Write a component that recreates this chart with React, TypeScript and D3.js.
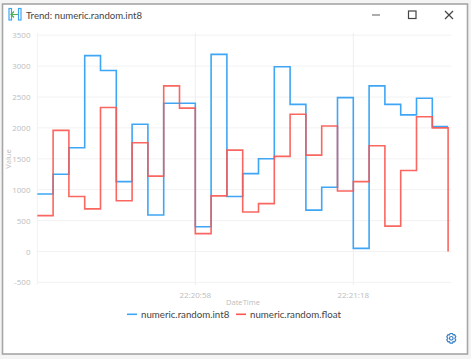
import React from "react";
import * as d3 from "d3";

const startTime = new Date(2024, 0, 1, 22, 20, 38).getTime();
const stepSeconds = 2;
const int8Values = [930, 1250, 1680, 3170, 2930, 1130, 2060, 590, 2400, 2400, 400, 3190, 890, 1260, 1500, 2990, 2380, 670, 1040, 2490, 50, 2680, 2380, 2210, 2480, 2020];
const floatValues = [580, 1960, 890, 690, 2330, 820, 1760, 1220, 2680, 2320, 290, 900, 1640, 640, 775, 1540, 2220, 1560, 2030, 980, 1130, 1710, 410, 1310, 2180, 2000, 0];
const yTicks = [-500, 0, 500, 1000, 1500, 2000, 2500, 3000, 3500];
const xTickLabels = ["22:20:58", "22:21:18"];
const xTicks = [new Date(2024, 0, 1, 22, 20, 58), new Date(2024, 0, 1, 22, 21, 18)];
const title = "Trend: numeric.random.int8";
const seriesNames = ["numeric.random.int8", "numeric.random.float"];
const BLUE = "#3ea6f5";
const RED = "#f8564f";
const FONT = "Lato, 'Open Sans', sans-serif";
const TICK_FONT = "'Open Sans', sans-serif";

export default function App() {
  const x = d3.scaleTime().domain([startTime, startTime + 52000]).range([37.3, 448.1]);
  const y = d3.scaleLinear().domain([-500, 3500]).range([282.4, 35.2]);
  const t = (i: number) => new Date(startTime + i * stepSeconds * 1000);
  const line = d3.line<number>().x((_, i) => x(t(i))).y((d) => y(d)).curve(d3.curveStepAfter);
  const int8Line = line([...int8Values, int8Values[int8Values.length - 1]]) as string;
  const floatLine = line(floatValues) as string;
  return (
    <svg width={471} height={359} style={{ position: "absolute", left: 0, top: 0 }} fontFamily={FONT}>
      <rect x={0} y={0} width={471} height={359} fill="#f4f4f4" />
      <rect x={2.5} y={4} width={465} height={350} fill="#fff" stroke="#a6a6a6" strokeWidth={1.6} />
      <g fill="none" stroke="#3ea6f5" strokeWidth={1.2}>
        <rect x={9} y={8.5} width={2.5} height={11.5} />
        <rect x={18.5} y={8.5} width={2.5} height={11.5} />
      </g>
      <path d="M11 14.5H18M14 11.5L11 14.5L14 17.5" fill="none" stroke="#4caf50" strokeWidth={1.2} />
      <text x={26} y={18.5} fontSize={9.6} fill="#444">{title}</text>
      <g fill="none" stroke="#444" strokeWidth={1.2}>
        <path d="M372 15H380" stroke="#777" />
        <rect x={408.5} y={11} width={7.5} height={7.5} />
        <path d="M445 11L453 19M453 11L445 19" />
      </g>
      {yTicks.map((v) => (
        <g key={v}>
          <line x1={37.3} x2={451.5} y1={y(v)} y2={y(v)} stroke="#f2f2f2" />
          <text x={30.5} y={y(v) + 3} textAnchor="end" fontSize={8} fontFamily={TICK_FONT} fill="#bdbdbd">{v}</text>
        </g>
      ))}
      <line x1={37.3} x2={37.3} y1={33} y2={285} stroke="#f2f2f2" />
      {xTicks.map((d, i) => (
        <g key={i}>
          <line x1={x(d)} x2={x(d)} y1={33} y2={285} stroke="#eeeeee" />
          <text x={x(d)} y={297.5} textAnchor="middle" fontSize={8} fontFamily={TICK_FONT} fill="#bdbdbd">{xTickLabels[i]}</text>
        </g>
      ))}
      <text x={243} y={304.5} textAnchor="middle" fontSize={7.6} fontFamily={TICK_FONT} fill="#bdbdbd">DateTime</text>
      <text transform="translate(11,159) rotate(-90)" textAnchor="middle" fontSize={7.6} fontFamily={TICK_FONT} fill="#bdbdbd">Value</text>
      <path d={int8Line} fill="none" stroke={BLUE} strokeWidth={1.6} />
      <path d={floatLine} fill="none" stroke={RED} strokeWidth={1.6} strokeOpacity={0.9} />
      <line x1={127} x2={137} y1={314.3} y2={314.3} stroke={BLUE} strokeWidth={1.6} />
      <text x={141} y={318} fontSize={9.7} fill="#444">{seriesNames[0]}</text>
      <line x1={236} x2={246} y1={314.3} y2={314.3} stroke={RED} strokeWidth={1.6} />
      <text x={250} y={318} fontSize={9.7} fill="#444">{seriesNames[1]}</text>
      <g transform="translate(451.3,338.3)" fill="none" stroke="#3b82c4" strokeWidth={1.2}>
        <circle r={1.8} />
        <path d="M-1.2 -4.8H1.2L1.8 -3.4L3.3 -3.6L4.5 -1.5L3.5 0L4.5 1.5L3.3 3.6L1.8 3.4L1.2 4.8H-1.2L-1.8 3.4L-3.3 3.6L-4.5 1.5L-3.5 0L-4.5 -1.5L-3.3 -3.6L-1.8 -3.4Z" />
      </g>
    </svg>
  );
}
